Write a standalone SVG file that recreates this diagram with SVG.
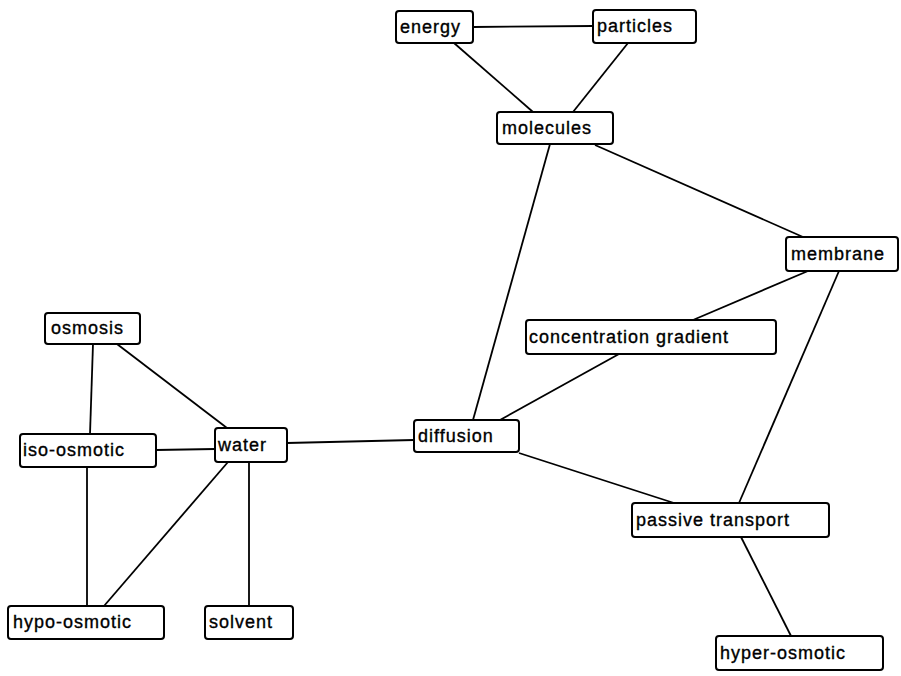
<svg xmlns="http://www.w3.org/2000/svg" width="901" height="676" viewBox="0 0 901 676">
<style>
.n rect{fill:#fff;stroke:#000;stroke-width:2}
.n text{font-family:"Liberation Sans",Arial,sans-serif;font-size:18px;letter-spacing:1px;fill:#000;stroke:#000;stroke-width:0.35}
#edges line{stroke:#000;stroke-width:1.8;fill:none}
</style>
<rect width="901" height="676" fill="#fff"/>
<g id="edges">
<line x1="473" y1="27" x2="593" y2="26"/>
<line x1="454" y1="43" x2="533" y2="112"/>
<line x1="628" y1="43" x2="573" y2="112"/>
<line x1="595" y1="145" x2="803" y2="237"/>
<line x1="550" y1="144" x2="473" y2="420"/>
<line x1="808" y1="271" x2="693" y2="320"/>
<line x1="839" y1="271" x2="739" y2="503"/>
<line x1="619" y1="354" x2="500" y2="420"/>
<line x1="519" y1="453" x2="674" y2="503"/>
<line x1="741" y1="537" x2="791" y2="636"/>
<line x1="287" y1="443" x2="414" y2="440"/>
<line x1="93" y1="344" x2="90" y2="434"/>
<line x1="117" y1="344" x2="227" y2="428"/>
<line x1="156" y1="450" x2="215" y2="449"/>
<line x1="87" y1="467" x2="87" y2="606"/>
<line x1="228" y1="462" x2="104" y2="606"/>
<line x1="249" y1="462" x2="249" y2="606"/>
</g>
<g id="energy" class="n"><rect x="396" y="11" width="77" height="32" rx="3"/><text x="400" y="33">energy</text></g>
<g id="particles" class="n"><rect x="593" y="10" width="103" height="33" rx="3"/><text x="597" y="32">particles</text></g>
<g id="molecules" class="n"><rect x="497" y="112" width="116" height="32" rx="3"/><text x="502" y="134">molecules</text></g>
<g id="membrane" class="n"><rect x="786" y="237" width="112" height="34" rx="3"/><text x="791" y="260">membrane</text></g>
<g id="concentration-gradient" class="n"><rect x="526" y="320" width="250" height="34" rx="3"/><text x="529" y="343">concentration gradient</text></g>
<g id="osmosis" class="n"><rect x="45" y="313" width="95" height="31" rx="3"/><text x="51" y="334">osmosis</text></g>
<g id="iso-osmotic" class="n"><rect x="20" y="434" width="136" height="33" rx="3"/><text x="23" y="456">iso-osmotic</text></g>
<g id="water" class="n"><rect x="215" y="428" width="72" height="34" rx="3"/><text x="218" y="451">water</text></g>
<g id="diffusion" class="n"><rect x="414" y="420" width="105" height="32" rx="3"/><text x="418" y="442">diffusion</text></g>
<g id="passive-transport" class="n"><rect x="632" y="503" width="197" height="34" rx="3"/><text x="636" y="526">passive transport</text></g>
<g id="hypo-osmotic" class="n"><rect x="8" y="606" width="156" height="33" rx="3"/><text x="13" y="628">hypo-osmotic</text></g>
<g id="solvent" class="n"><rect x="205" y="606" width="88" height="33" rx="3"/><text x="209" y="628">solvent</text></g>
<g id="hyper-osmotic" class="n"><rect x="716" y="636" width="167" height="34" rx="3"/><text x="720" y="659">hyper-osmotic</text></g>
</svg>
